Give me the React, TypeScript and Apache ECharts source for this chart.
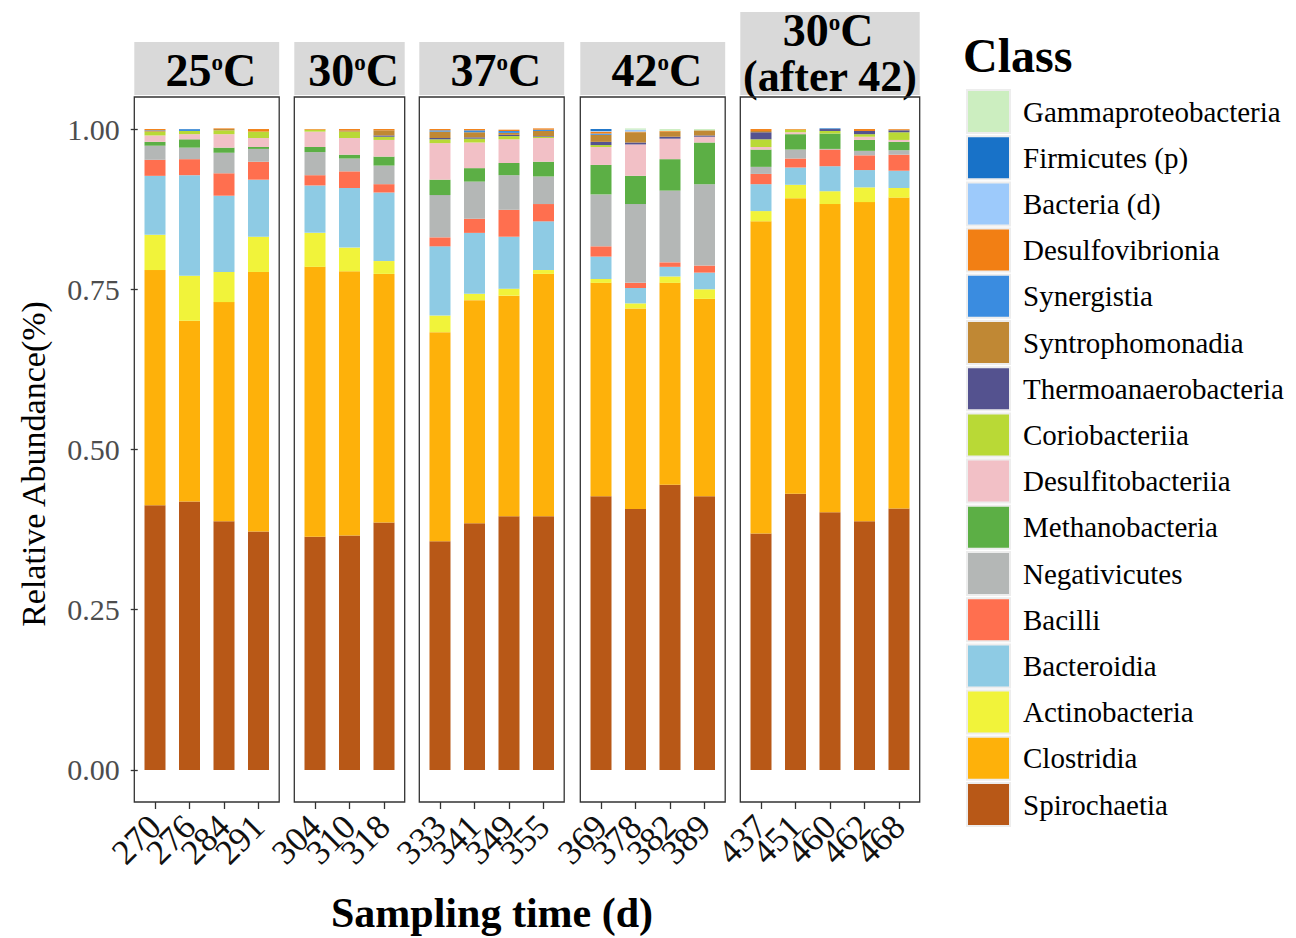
import React, { useEffect, useRef } from 'react';
import * as echarts from 'echarts';

const FONT = '"Liberation Serif", "DejaVu Serif", serif';

// Samples (sampling day) in order, grouped by temperature panel
const sampleLabels = ['270', '276', '284', '291', '304', '310', '318', '333', '341', '349', '355', '369', '378', '382', '389', '437', '451', '460', '462', '468'];
const panelSizes = [4, 3, 4, 4, 5];
const panelTitles = [['25', 'C'], ['30', 'C'], ['37', 'C'], ['42', 'C'], ['30', 'C', '(after 42)']];

// Classes from bottom of stack to top
const classNames = ['Spirochaetia', 'Clostridia', 'Actinobacteria', 'Bacteroidia', 'Bacilli', 'Negativicutes', 'Methanobacteria', 'Desulfitobacteriia', 'Coriobacteriia', 'Thermoanaerobacteria', 'Syntrophomonadia', 'Synergistia', 'Desulfovibrionia', 'Bacteria (d)', 'Firmicutes (p)', 'Gammaproteobacteria'];
const classColors = ['#B85817', '#FEB10A', '#F1F33A', '#8ECBE4', '#FF6F4F', '#B4B7B6', '#5CAF45', '#F2C0C6', '#B9D936', '#54528F', '#C08834', '#3A8CE0', '#F27F14', '#9DCAFB', '#1872C8', '#CCEEC0'];

const spirochaetia = [0.413, 0.419, 0.388, 0.372, 0.364, 0.366, 0.386, 0.357, 0.385, 0.396, 0.396, 0.427, 0.407, 0.445, 0.427, 0.369, 0.431, 0.402, 0.388, 0.408];
const clostridia = [0.367, 0.282, 0.342, 0.405, 0.421, 0.412, 0.388, 0.326, 0.348, 0.344, 0.378, 0.333, 0.313, 0.315, 0.308, 0.487, 0.461, 0.481, 0.498, 0.485];
const actinobacteria = [0.055, 0.070, 0.047, 0.055, 0.053, 0.037, 0.020, 0.026, 0.010, 0.011, 0.006, 0.006, 0.008, 0.010, 0.015, 0.016, 0.021, 0.020, 0.023, 0.015];
const bacteroidia = [0.092, 0.157, 0.119, 0.089, 0.074, 0.093, 0.107, 0.108, 0.095, 0.081, 0.076, 0.035, 0.024, 0.015, 0.026, 0.042, 0.027, 0.039, 0.027, 0.027];
const bacilli = [0.025, 0.025, 0.035, 0.028, 0.016, 0.026, 0.013, 0.014, 0.022, 0.042, 0.027, 0.016, 0.008, 0.007, 0.011, 0.016, 0.014, 0.026, 0.023, 0.025];
const negativicutes = [0.022, 0.018, 0.032, 0.020, 0.036, 0.020, 0.029, 0.066, 0.058, 0.054, 0.043, 0.081, 0.123, 0.112, 0.127, 0.011, 0.014, 0.001, 0.007, 0.007];
const methanobacteria = [0.006, 0.013, 0.008, 0.003, 0.008, 0.006, 0.014, 0.024, 0.021, 0.019, 0.023, 0.046, 0.044, 0.049, 0.065, 0.027, 0.024, 0.024, 0.017, 0.013];
const desulfitobacteriia = [0.010, 0.008, 0.021, 0.014, 0.024, 0.026, 0.026, 0.057, 0.040, 0.037, 0.037, 0.028, 0.049, 0.032, 0.009, 0.004, 0.003, 0.000, 0.005, 0.003];
const coriobacteriia = [0.006, 0.005, 0.006, 0.010, 0.003, 0.010, 0.005, 0.006, 0.006, 0.005, 0.002, 0.003, 0.000, 0.000, 0.000, 0.012, 0.004, 0.004, 0.004, 0.012];
const thermoanaerobacteria = [0, 0, 0, 0, 0, 0, 0.002, 0.002, 0.002, 0.002, 0.001, 0.005, 0.003, 0.003, 0.002, 0.011, 0, 0.003, 0.005, 0.003];
const syntrophomonadia = [0.001, 0, 0.002, 0, 0, 0.002, 0.008, 0.010, 0.008, 0.003, 0.008, 0.011, 0.016, 0.008, 0.008, 0.002, 0, 0, 0, 0.001];
const synergistia = [0.001, 0.002, 0, 0, 0, 0, 0, 0.002, 0.003, 0.003, 0.002, 0.002, 0, 0, 0, 0, 0, 0, 0, 0];
const desulfovibrionia = [0.002, 0, 0.001, 0.004, 0.001, 0.002, 0.002, 0.002, 0.002, 0.002, 0.002, 0.003, 0.001, 0.001, 0, 0.003, 0.001, 0, 0.003, 0.001];
const bacteriaD = [0, 0, 0, 0, 0, 0, 0, 0, 0, 0, 0, 0.001, 0.003, 0, 0, 0, 0, 0, 0, 0];
const firmicutesP = [0, 0.001, 0, 0, 0, 0, 0, 0, 0, 0, 0, 0.003, 0, 0, 0, 0, 0, 0.001, 0, 0];
const gammaproteobacteria = [0, 0, 0, 0, 0, 0, 0, 0, 0, 0, 0, 0, 0.002, 0.003, 0.002, 0, 0, 0, 0, 0];

const classValues = [spirochaetia, clostridia, actinobacteria, bacteroidia, bacilli, negativicutes, methanobacteria, desulfitobacteriia, coriobacteriia, thermoanaerobacteria, syntrophomonadia, synergistia, desulfovibrionia, bacteriaD, firmicutesP, gammaproteobacteria];

const yTicks = [0, 0.25, 0.5, 0.75, 1];

export default function App() {
  const ref = useRef<HTMLDivElement>(null);
  useEffect(() => {
    if (!ref.current) return;
    const chart = echarts.init(ref.current, null, { renderer: 'svg' });

    const unit = 34.5;
    const panelLefts = [134.3, 294.3, 419.3, 580.3, 740.3];
    const gridTop = 97;
    const gridHeight = 705;

    const grids: any[] = [];
    const xAxes: any[] = [];
    const yAxes: any[] = [];
    const series: any[] = [];
    const graphics: any[] = [];

    let offset = 0;
    panelSizes.forEach((n, p) => {
      const panelWidth = (n + 0.2) * unit;
      const left = panelLefts[p];
      grids.push({ left: left + 0.1 * unit, top: gridTop, width: n * unit, height: gridHeight, show: false, containLabel: false });
      const labels = sampleLabels.slice(offset, offset + n);
      xAxes.push({
        type: 'category', gridIndex: p, data: labels, boundaryGap: true, position: 'bottom',
        splitLine: { show: false }, axisLine: { show: false, onZero: false },
        axisTick: { show: true, alignWithLabel: true, interval: 0, length: 7, lineStyle: { color: '#333', width: 1.3 } },
        axisLabel: { interval: 0, rotate: 45, fontSize: 35, fontFamily: FONT, color: '#111', margin: 19, hideOverlap: false },
      });
      yAxes.push({
        type: 'value', gridIndex: p, min: -0.05, max: 1.05,
        splitLine: { show: false }, axisLine: { show: false },
        axisTick: { show: p === 0, customValues: yTicks, length: 7, lineStyle: { color: '#333', width: 1.3 } },
        axisLabel: { show: p === 0, customValues: yTicks, formatter: (v: number) => v.toFixed(2), fontSize: 30, fontFamily: FONT, color: '#4D4D4D', margin: 18 },
      });
      classNames.forEach((name, c) => {
        series.push({
          type: 'bar', name, xAxisIndex: p, yAxisIndex: p, stack: 'panel' + p, barWidth: 21,
          itemStyle: { color: classColors[c] },
          data: labels.map((_, i) => classValues[c][offset + i]),
        });
      });

      // panel border
      graphics.push({ type: 'rect', z: 10, shape: { x: left, y: gridTop, width: panelWidth, height: gridHeight }, style: { fill: 'none', stroke: '#333', lineWidth: 1.3 } });

      // strip
      const title = panelTitles[p];
      const tall = title.length > 2;
      const stripTop = tall ? 12 : 42;
      graphics.push({ type: 'rect', shape: { x: left, y: stripTop, width: panelWidth, height: 95 - stripTop }, style: { fill: '#D9D9D9' } });
      const rich = {
        n: { fontSize: 46, fontWeight: 'bold', fontFamily: FONT, color: '#000' },
        s: { fontSize: 23, fontWeight: 'bold', fontFamily: FONT, color: '#000', verticalAlign: 'top', padding: [4, 0, 0, 0] },
      };
      graphics.push({
        type: 'text', x: left + panelWidth / 2 + (tall ? -2 : 4), y: tall ? 30 : 70,
        style: { text: `{n|${title[0]}}{s|o}{n|${title[1]}}`, rich, align: 'center', verticalAlign: 'middle' },
      });
      if (tall) {
        graphics.push({
          type: 'text', x: left + panelWidth / 2, y: 76,
          style: { text: title[2], fontSize: 44, fontWeight: 'bold', fontFamily: FONT, fill: '#000', align: 'center', verticalAlign: 'middle' },
        });
      }
      offset += n;
    });

    graphics.push({ type: 'text', x: 33, y: 464, rotation: Math.PI / 2, style: { text: 'Relative Abundance(%)', fontSize: 34, fontFamily: FONT, fill: '#000', align: 'center', verticalAlign: 'middle' } });
    graphics.push({ type: 'text', x: 492, y: 913, style: { text: 'Sampling time (d)', fontSize: 42, fontWeight: 'bold', fontFamily: FONT, fill: '#000', align: 'center', verticalAlign: 'middle' } });
    graphics.push({ type: 'text', x: 963, y: 55, style: { text: 'Class', fontSize: 48, fontWeight: 'bold', fontFamily: FONT, fill: '#000', align: 'left', verticalAlign: 'middle' } });

    chart.setOption({
      animation: false,
      backgroundColor: '#fff',
      grid: grids,
      xAxis: xAxes,
      yAxis: yAxes,
      series,
      legend: {
        orient: 'vertical', left: 966, top: 89, padding: 0, itemWidth: 43, itemHeight: 43, itemGap: 1.2,
        selectedMode: false, icon: 'rect',
        itemStyle: { borderColor: '#EDEDED', borderWidth: 2 },
        textStyle: { fontSize: 29, fontFamily: FONT, color: '#000', padding: [0, 0, 0, 8] },
        data: classNames.slice().reverse(),
      },
      graphic: graphics,
    });
    return () => chart.dispose();
  }, []);
  return <div ref={ref} style={{ position: 'fixed', left: 0, top: 0, width: 1296, height: 938 }} />;
}
